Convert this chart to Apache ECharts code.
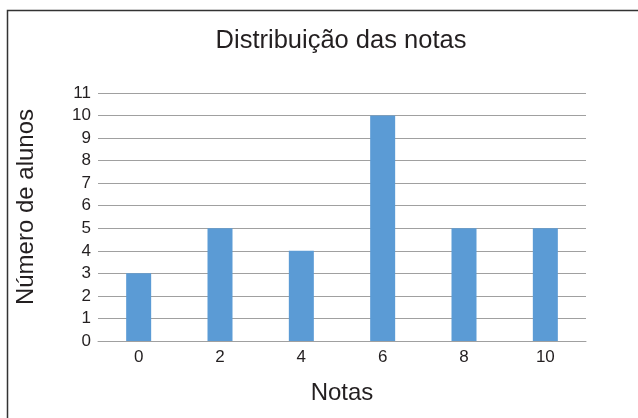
<!DOCTYPE html>
<html>
<head>
<meta charset="utf-8">
<script src="https://cdn.jsdelivr.net/npm/echarts@6/dist/echarts.min.js"></script>
<style>
  html, body { margin: 0; padding: 0; background: #fff; }
  #chart { width: 638px; height: 418px; }
</style>
</head>
<body>
<div id="chart"></div>
<script>
// data
var notas = ['0', '2', '4', '6', '8', '10'];
var alunos = [3, 5, 4, 10, 5, 5];

var fonte = 'Liberation Sans, Arial, sans-serif';
var myChart = echarts.init(document.getElementById('chart'));

option = {
    animation: false,
    textStyle: { fontFamily: fonte },
    title: {
        text: 'Distribuição das notas',
        left: 336,
        textAlign: 'center',
        top: 23,
        textStyle: { fontSize: 25.5, fontWeight: 'normal', color: '#231f20', fontFamily: fonte }
    },
    // frame around the chart (cut on right and bottom)
    graphic: [{
        type: 'rect',
        shape: { x: 7.5, y: 10.5, width: 700, height: 500 },
        style: { fill: 'none', stroke: '#333', lineWidth: 1.5 },
        silent: true
    }],
    grid: { left: 98, right: 52, top: 93, bottom: 77 },
    xAxis: {
        type: 'category',
        data: notas,
        name: 'Notas',
        nameLocation: 'middle',
        nameGap: 40,
        nameTextStyle: { fontSize: 24, color: '#231f20', fontFamily: fonte },
        axisLine: { lineStyle: { color: '#a0a0a0', width: 1 } },
        axisTick: { show: false },
        axisLabel: { fontSize: 17, color: '#231f20', margin: 8, fontFamily: fonte }
    },
    yAxis: {
        type: 'value',
        min: 0,
        max: 11,
        interval: 1,
        name: 'Número de alunos',
        nameLocation: 'middle',
        nameGap: 60,
        nameTextStyle: { fontSize: 24, color: '#231f20', fontFamily: fonte, padding: [0, 0, 0, 20] },
        axisLine: { show: false },
        axisTick: { show: false },
        axisLabel: { fontSize: 17, color: '#231f20', margin: 7, fontFamily: fonte },
        splitLine: { lineStyle: { color: '#a0a0a0', width: 1 } }
    },
    series: [{
        name: 'Número de alunos',
        type: 'bar',
        data: alunos,
        barWidth: 25,
        itemStyle: { color: '#5b9bd5' }
    }]
};

myChart.setOption(option, true);
</script>
</body>
</html>
